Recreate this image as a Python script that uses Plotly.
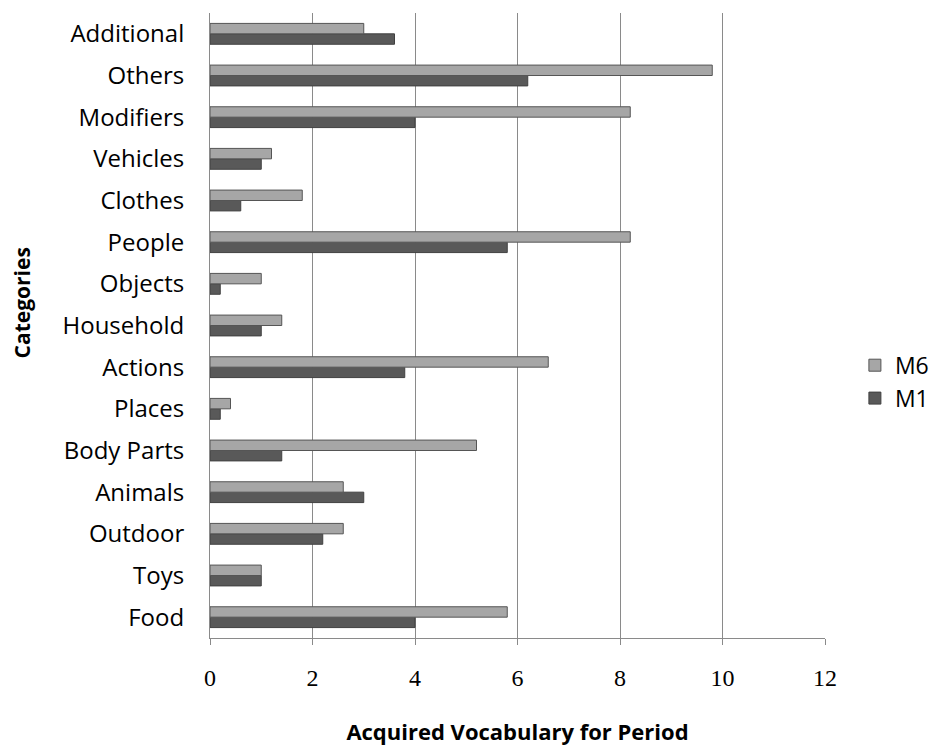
import plotly.graph_objects as go

categories = ["Food", "Toys", "Outdoor", "Animals", "Body Parts", "Places", "Actions",
              "Household", "Objects", "People", "Clothes", "Vehicles", "Modifiers",
              "Others", "Additional"]
m1_values = [4.0, 1.0, 2.2, 3.0, 1.4, 0.2, 3.8, 1.0, 0.2, 5.8, 0.6, 1.0, 4.0, 6.2, 3.6]
m6_values = [5.8, 1.0, 2.6, 2.6, 5.2, 0.4, 6.6, 1.4, 1.0, 8.2, 1.8, 1.2, 8.2, 9.8, 3.0]
x_ticks = [0, 2, 4, 6, 8, 10, 12]

SANS = "'Open Sans', sans-serif"
SERIF = "'Liberation Serif', 'DejaVu Serif', serif"

fig = go.Figure()
fig.add_trace(go.Bar(
    y=categories, x=m1_values, name="M1", orientation="h", legendgroup="m1",
    marker=dict(color="#595959", line=dict(color="#404040", width=1)),
))
fig.add_trace(go.Bar(
    y=categories, x=m6_values, name="M6", orientation="h", legendgroup="m6",
    marker=dict(color="#a6a6a6", line=dict(color="#555555", width=1)),
))

fig.update_layout(
    width=941, height=746,
    paper_bgcolor="white", plot_bgcolor="white",
    margin=dict(l=202, r=124, t=5, b=116),
    barmode="group", bargap=0.5, bargroupgap=0,
    font=dict(family=SANS, color="#000000"),
    legend=dict(
        traceorder="reversed", xref="container", yref="container",
        x=0.9, y=0.499, xanchor="left", yanchor="middle",
        font=dict(size=23, family=SANS), itemwidth=30, tracegroupgap=26,
    ),
    xaxis=dict(
        range=[0, 12], tickvals=x_ticks, showgrid=True, gridcolor="#8a8a8a",
        gridwidth=1, showline=True, linecolor="#8a8a8a", ticks="outside",
        ticklen=6, tickcolor="#8a8a8a", tickfont=dict(size=24, family=SERIF),
        ticklabelstandoff=12, zeroline=False,
        title=dict(text="<b>Acquired Vocabulary for Period</b>",
                   font=dict(size=22, family=SANS), standoff=34),
    ),
    yaxis=dict(
        showline=True, linecolor="#8a8a8a", ticks="",
        tickfont=dict(size=24, family=SANS), ticklabelstandoff=20,
    ),
    annotations=[dict(
        text="<b>Categories</b>", textangle=-90, xref="paper", yref="paper",
        x=-0.305, y=0.536, xanchor="center", yanchor="middle", showarrow=False,
        font=dict(size=21, family=SANS),
    )],
)

fig.write_html("out.html")
